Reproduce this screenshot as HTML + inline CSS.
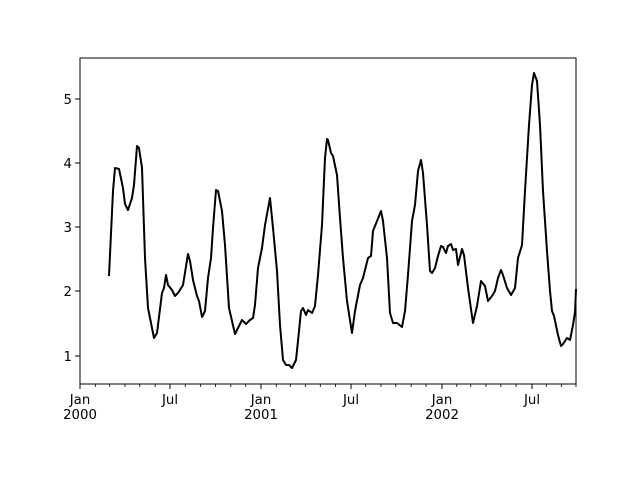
<!DOCTYPE html>
<html><head><meta charset="utf-8"><style>html,body{margin:0;padding:0;background:#fff}svg{display:block}</style></head>
<body>
<svg width="640" height="480" xmlns="http://www.w3.org/2000/svg" font-family="DejaVu Sans, Liberation Sans, sans-serif" font-size="13.3">
<rect width="640" height="480" fill="#fff"/>
<polyline fill="none" stroke="#000" stroke-width="2" stroke-linejoin="round" points="109,276 113,191 115,168 119,169 123,188 125,204 128,210 132,198 134,185 137,146 139,148 142,168 145,258 148,308 152,328 154,338 157,333 162,293 164,288 166,275 168,285 172,290 175,296 178,293 183,285 188,254 190,261 193,280 197,296 199,301 202,317 205,311 208,278 211,258 213,228 216,190 218,191 222,211 225,245 229,308 232,321 235,334 238,328 242,320 246,324 250,320 253,318 255,305 258,268 262,248 265,225 270,198 273,228 277,271 280,325 283,360 286,365 289,365 292,368 296,360 298,341 301,311 303,308 306,315 308,310 312,313 315,306 318,275 322,225 325,158 327,139 328,140 331,153 333,156 337,175 340,218 343,258 347,301 352,333 355,311 360,285 363,278 368,258 371,256 373,231 377,221 381,211 383,221 387,258 390,313 393,323 397,323 402,327 405,311 408,275 412,221 415,205 418,171 421,160 423,173 427,225 430,271 432,273 435,268 438,256 441,246 443,247 446,253 448,246 451,244 453,250 456,249 458,265 462,249 464,255 468,288 473,323 477,306 481,281 485,286 488,301 492,296 495,291 498,278 501,270 503,275 507,288 511,295 515,288 518,258 522,245 525,191 529,125 532,85 534,73 537,81 540,125 543,191 547,251 550,291 552,311 554,316 558,335 561,346 563,344 567,338 570,340 573,325 575,312 576,289"/>
<rect x="80" y="58" width="496" height="326" fill="none" stroke="#000" stroke-width="1"/>
<g stroke="#000" stroke-width="1">
<line x1="75" y1="356" x2="80" y2="356"/><line x1="75" y1="291" x2="80" y2="291"/><line x1="75" y1="227" x2="80" y2="227"/><line x1="75" y1="163" x2="80" y2="163"/><line x1="75" y1="99" x2="80" y2="99"/>
<line x1="80" y1="384" x2="80" y2="389"/><line x1="170" y1="384" x2="170" y2="389"/><line x1="261" y1="384" x2="261" y2="389"/><line x1="351" y1="384" x2="351" y2="389"/><line x1="442" y1="384" x2="442" y2="389"/><line x1="532" y1="384" x2="532" y2="389"/>
</g>
<g stroke="#000" stroke-width="0.8">
<line x1="95.3" y1="384" x2="95.3" y2="387"/><line x1="109.7" y1="384" x2="109.7" y2="387"/><line x1="125" y1="384" x2="125" y2="387"/><line x1="139.8" y1="384" x2="139.8" y2="387"/><line x1="155.2" y1="384" x2="155.2" y2="387"/>
<line x1="185.3" y1="384" x2="185.3" y2="387"/><line x1="200.7" y1="384" x2="200.7" y2="387"/><line x1="215.5" y1="384" x2="215.5" y2="387"/><line x1="230.8" y1="384" x2="230.8" y2="387"/><line x1="245.7" y1="384" x2="245.7" y2="387"/>
<line x1="276.3" y1="384" x2="276.3" y2="387"/><line x1="290.2" y1="384" x2="290.2" y2="387"/><line x1="305.5" y1="384" x2="305.5" y2="387"/><line x1="320.3" y1="384" x2="320.3" y2="387"/><line x1="335.6" y1="384" x2="335.6" y2="387"/>
<line x1="365.7" y1="384" x2="365.7" y2="387"/><line x1="381" y1="384" x2="381" y2="387"/><line x1="395.8" y1="384" x2="395.8" y2="387"/><line x1="411.2" y1="384" x2="411.2" y2="387"/><line x1="426" y1="384" x2="426" y2="387"/>
<line x1="456.8" y1="384" x2="456.8" y2="387"/><line x1="470.7" y1="384" x2="470.7" y2="387"/><line x1="486" y1="384" x2="486" y2="387"/><line x1="500.8" y1="384" x2="500.8" y2="387"/><line x1="516.1" y1="384" x2="516.1" y2="387"/>
<line x1="546.3" y1="384" x2="546.3" y2="387"/><line x1="561.6" y1="384" x2="561.6" y2="387"/><line x1="576" y1="384" x2="576" y2="387"/>
</g>
<g text-anchor="end" fill="#000">
<text x="72" y="361">1</text><text x="72" y="296">2</text><text x="72" y="232">3</text><text x="72" y="168">4</text><text x="72" y="104">5</text>
</g>
<g text-anchor="middle" fill="#000">
<text x="80" y="404">Jan</text><text x="80" y="419">2000</text>
<text x="170" y="404">Jul</text>
<text x="261" y="404">Jan</text><text x="261" y="419">2001</text>
<text x="351" y="404">Jul</text>
<text x="442" y="404">Jan</text><text x="442" y="419">2002</text>
<text x="532" y="404">Jul</text>
</g>
</svg>
</body></html>
